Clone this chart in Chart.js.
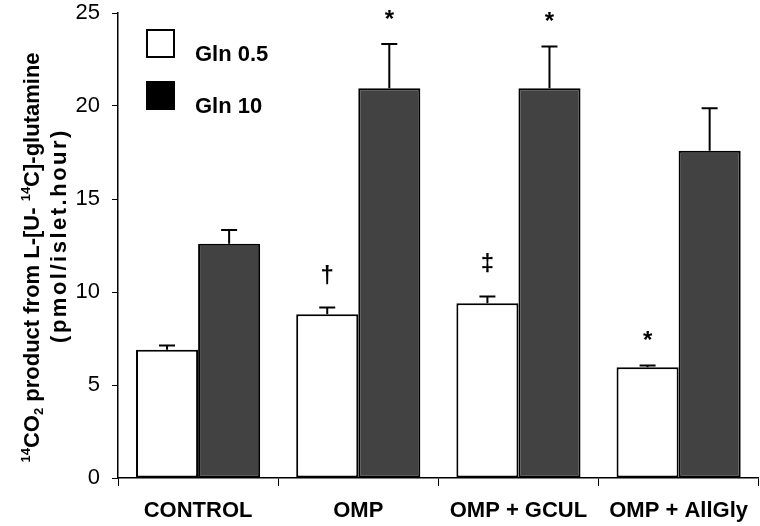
<!DOCTYPE html>
<html>
<head>
<meta charset="utf-8">
<script src="https://cdn.jsdelivr.net/npm/chart.js@4.4.1/dist/chart.umd.min.js"></script>
<style>
  body { margin: 0; background: #fff; }
  #wrap { width: 760px; height: 526px; }
</style>
</head>
<body>
<div id="wrap"><canvas id="bar-chart" width="760" height="526"></canvas></div>
<script>
var categories = ['CONTROL', 'OMP', 'OMP + GCUL', 'OMP + AllGly'];
var gln05 = [6.9, 8.8, 9.4, 5.95];
var gln05Err = [0.22, 0.36, 0.36, 0.1];
var gln10 = [12.6, 20.95, 20.95, 17.6];
var gln10Err = [0.73, 2.38, 2.25, 2.28];
var marks05 = ['', '\u2020', '\u2021', '*'];
var marks10 = ['', '*', '*', ''];
var yTicks = [0, 5, 10, 15, 20, 25];
// y title: [text, kind] pieces, kind '' normal, 'sup' superscript, 'sub' subscript
var yTitleLine1 = [['14', 'sup'], ['CO', ''], ['2', 'sub'], [' product from L-[U- ', ''], ['14', 'sup'], ['C]-glutamine', '']];
var yTitleLine2 = '(pmol/islet.hour)';

var errors = [gln05Err, gln10Err];
var marks = [marks05, marks10];
var fontFamily = "'Liberation Sans', Arial, sans-serif";

// error bars (upward only) and significance symbols
var errorBarPlugin = {
  id: 'errorBars',
  afterDatasetsDraw: function(chart) {
    var ctx = chart.ctx;
    var y = chart.scales.y;
    ctx.save();
    ctx.strokeStyle = '#000';
    ctx.lineWidth = 2;
    chart.data.datasets.forEach(function(ds, di) {
      var meta = chart.getDatasetMeta(di);
      meta.data.forEach(function(bar, i) {
        var top = y.getPixelForValue(ds.data[i] + errors[di][i]);
        ctx.beginPath();
        ctx.moveTo(bar.x, bar.y);
        ctx.lineTo(bar.x, top);
        ctx.moveTo(bar.x - 8, top);
        ctx.lineTo(bar.x + 8, top);
        ctx.stroke();
        var m = marks[di][i];
        if (m) {
          ctx.fillStyle = '#000';
          ctx.font = 'bold 24px ' + fontFamily;
          ctx.textAlign = 'center';
          ctx.textBaseline = 'alphabetic';
          var gap = m == '*' ? 17 : 25;
          ctx.fillText(m, bar.x, top - gap);
        }
      });
    });
    ctx.restore();
  }
};

// legend drawn inside the plot, top left
var boxLegendPlugin = {
  id: 'boxLegend',
  afterDraw: function(chart) {
    var ctx = chart.ctx;
    var a = chart.chartArea;
    var fills = ['#ffffff', '#000000'];
    ctx.save();
    chart.data.datasets.forEach(function(ds, di) {
      var bx = a.left + 29;
      var by = a.top + 17 + di * 52;
      ctx.fillStyle = fills[di];
      ctx.fillRect(bx, by, 27, 27);
      ctx.strokeStyle = '#000';
      ctx.lineWidth = 2;
      ctx.strokeRect(bx, by, 27, 27);
      ctx.fillStyle = '#000';
      ctx.font = 'bold 22px ' + fontFamily;
      ctx.textAlign = 'left';
      ctx.textBaseline = 'middle';
      ctx.fillText(ds.label, bx + 48, by + 25);
    });
    ctx.restore();
  }
};

// rotated two-line y axis title with super/subscripts
var yTitlePlugin = {
  id: 'yTitle',
  afterDraw: function(chart) {
    var ctx = chart.ctx;
    var a = chart.chartArea;
    var mid = (a.top + a.bottom) / 2;
    var big = 'bold 22px ' + fontFamily;
    var small = 'bold 13px ' + fontFamily;
    ctx.save();
    ctx.fillStyle = '#000';
    ctx.textBaseline = 'alphabetic';
    ctx.textAlign = 'left';
    var total = 0;
    yTitleLine1.forEach(function(p) {
      ctx.font = p[1] ? small : big;
      total += ctx.measureText(p[0]).width;
    });
    ctx.translate(39, mid + 12);
    ctx.rotate(-Math.PI / 2);
    var x = -total / 2;
    yTitleLine1.forEach(function(p) {
      ctx.font = p[1] ? small : big;
      var dy = p[1] == 'sup' ? -9 : (p[1] == 'sub' ? 4 : 0);
      ctx.fillText(p[0], x, dy);
      x += ctx.measureText(p[0]).width;
    });
    ctx.restore();

    ctx.save();
    ctx.fillStyle = '#000';
    ctx.font = 'bold 22px ' + fontFamily;
    ctx.letterSpacing = '2.5px';
    ctx.textAlign = 'center';
    ctx.textBaseline = 'alphabetic';
    ctx.translate(66, mid - 10);
    ctx.rotate(-Math.PI / 2);
    ctx.fillText(yTitleLine2, 0, 0);
    ctx.restore();
  }
};

new Chart(document.getElementById('bar-chart'), {
  type: 'bar',
  data: {
    labels: categories,
    datasets: [{
      label: 'Gln 0.5',
      data: gln05,
      backgroundColor: '#ffffff',
      borderColor: '#000000',
      borderWidth: 2,
      borderSkipped: false,
      categoryPercentage: 0.775,
      barPercentage: 1.0
    }, {
      label: 'Gln 10',
      data: gln10,
      backgroundColor: '#424242',
      borderColor: '#000000',
      borderWidth: 2,
      borderSkipped: false,
      categoryPercentage: 0.775,
      barPercentage: 1.0
    }]
  },
  options: {
    responsive: false,
    animation: false,
    layout: { padding: { top: 13, right: 0, bottom: 0, left: 0 } },
    plugins: {
      legend: { display: false },
      tooltip: { enabled: false }
    },
    scales: {
      x: {
        afterFit: function(s) { s.height = 48; },
        grid: { display: true, drawOnChartArea: false, drawTicks: true, tickLength: 8, color: '#000', offset: true },
        border: { display: true, color: '#000', width: 1.5 },
        ticks: { color: '#000', padding: 12, font: { family: fontFamily, size: 22, weight: 'bold' }, maxRotation: 0, autoSkip: false }
      },
      y: {
        min: 0,
        max: 25,
        afterFit: function(s) { s.width = 118; s.paddingTop = 0; s.paddingBottom = 0; },
        afterBuildTicks: function(s) { s.ticks = yTicks.map(function(v) { return { value: v }; }); },
        grid: { display: true, drawOnChartArea: false, drawTicks: true, tickLength: 6, color: '#000' },
        border: { display: true, color: '#000', width: 1.5 },
        ticks: { color: '#000', padding: 12, font: { family: fontFamily, size: 22 } }
      }
    }
  },
  plugins: [errorBarPlugin, boxLegendPlugin, yTitlePlugin]
});
</script>
</body>
</html>
